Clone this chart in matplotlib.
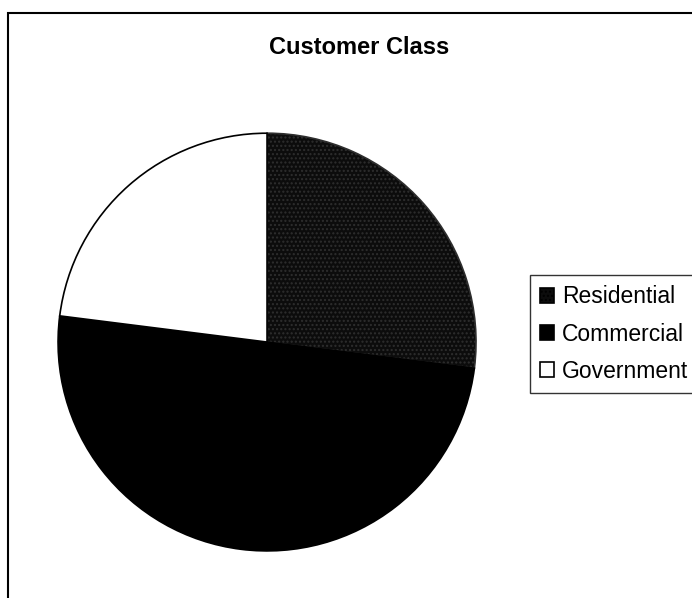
import matplotlib.pyplot as plt
from matplotlib.patches import Rectangle

plt.rcParams['font.family'] = ['Liberation Sans', 'DejaVu Sans']

labels = ['Residential', 'Commercial', 'Government']
values = [27, 50, 23]
colors = ['#0c0c0c', '#000000', '#ffffff']

fig = plt.figure(figsize=(6.92, 5.98), dpi=100)

# cadre du graphique
fig.patches.append(Rectangle((8 / 692, -0.05), 1.0, 1.05 - 13 / 598,
                             transform=fig.transFigure, fill=False,
                             edgecolor='black', linewidth=1.5))

ax = fig.add_axes([0.0824, 0.077, 0.607, 0.702])
wedges, _ = ax.pie(values, colors=colors, startangle=90, counterclock=False,
                   wedgeprops=dict(edgecolor='black', linewidth=1.2))
wedges[0].set_hatch('....')
wedges[0].set_edgecolor('#2e2e2e')
ax.set_aspect('auto')
ax.set_xlim(-1.005, 1.005)
ax.set_ylim(-1.005, 1.005)
ax.axis('off')

fig.text(359 / 692, 1 - 48 / 598, 'Customer Class', ha='center', va='center',
         fontsize=17, fontweight='bold')

leg = fig.legend(wedges, labels, loc='upper left',
                 bbox_to_anchor=(530 / 692, 1 - 275 / 598),
                 fontsize=16.5, frameon=True, fancybox=False,
                 handlelength=0.6, handleheight=0.6, handletextpad=0.35,
                 labelspacing=0.62, borderpad=0.45, borderaxespad=0)
leg.get_frame().set_edgecolor('black')
leg.get_frame().set_linewidth(1.0)
for h in leg.legend_handles:
    h.set_edgecolor('black')
leg.legend_handles[0].set_hatch('....')

fig.savefig('out.png', dpi=100)
